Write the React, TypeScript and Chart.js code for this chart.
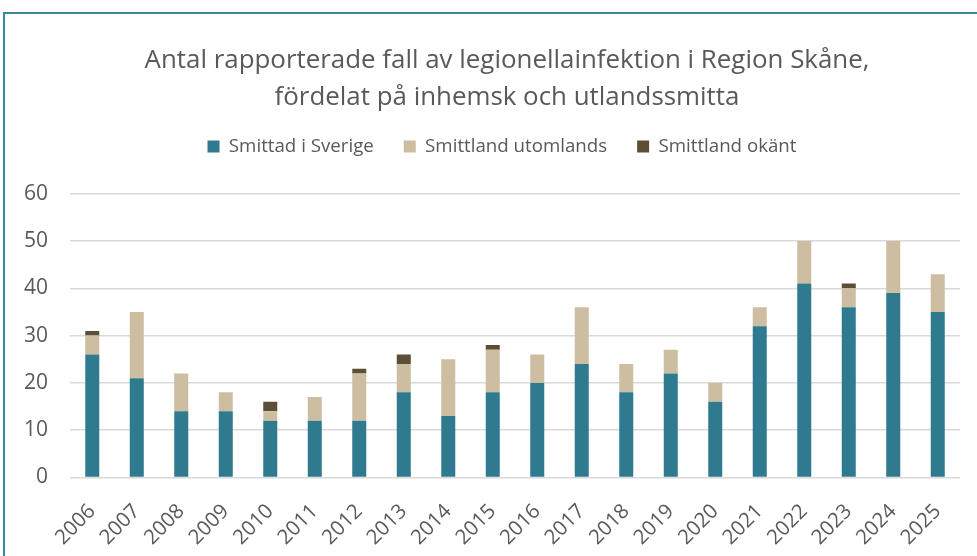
import React, { useEffect, useRef } from "react";
import { Chart, registerables } from "chart.js";

Chart.register(...registerables);

const years = ["2006","2007","2008","2009","2010","2011","2012","2013","2014","2015","2016","2017","2018","2019","2020","2021","2022","2023","2024","2025"];
const smittadSverige = [26,21,14,14,12,12,12,18,13,18,20,24,18,22,16,32,41,36,39,35];
const smittlandUtomlands = [4,14,8,4,2,5,10,6,12,9,6,12,6,5,4,4,9,4,11,8];
const smittlandOkant = [1,0,0,0,2,0,1,2,0,1,0,0,0,0,0,0,0,1,0,0];
const titleLines = ["Antal rapporterade fall av legionellainfektion i Region Skåne,", "fördelat på inhemsk och utlandssmitta"];

const FONT = "'Open Sans', sans-serif";
const TEXT = "#595959";

const legendSpacing = {
  id: "legendSpacing",
  beforeInit(chart: any) {
    const legend = chart.legend;
    if (!legend) return;
    const fit = legend.fit;
    legend.fit = function () {
      fit.bind(legend)();
      this.height += 28;
    };
  },
  afterLayout(chart: any) {
    // The original frame is wider than the visible crop: centre title and legend on it
    const t = chart.titleBlock;
    if (t) { t.left += 26; t.right += 26; }
    const l = chart.legend;
    if (l) { l.left += 21; l.right += 21; }
  },
};

export default function App() {
  const ref = useRef<HTMLCanvasElement | null>(null);
  useEffect(() => {
    if (!ref.current) return;
    const chart = new Chart(ref.current, {
      type: "bar",
      data: {
        labels: years,
        datasets: [
          { label: "Smittad i Sverige", data: smittadSverige, backgroundColor: "#2F7A8E" },
          { label: "Smittland utomlands", data: smittlandUtomlands, backgroundColor: "#CDBEA2" },
          { label: "Smittland okänt", data: smittlandOkant, backgroundColor: "#5D4F35" },
        ],
      },
      options: {
        animation: false,
        responsive: false,
        layout: { padding: { top: 42, left: 2, right: 17, bottom: -8 } },
        datasets: { bar: { categoryPercentage: 1, barPercentage: 0.315 } },
        plugins: {
          title: {
            display: true,
            text: titleLines,
            color: TEXT,
            font: { family: FONT, size: 25.9, weight: "normal", lineHeight: 1.43 },
            padding: { top: 0, bottom: -9 },
          },
          legend: {
            display: true,
            position: "top",
            labels: {
              boxWidth: 12,
              boxHeight: 12,
              color: TEXT,
              padding: 30,
              font: { family: FONT, size: 18.7 },
            },
          },
          tooltip: { enabled: false },
        },
        scales: {
          x: {
            stacked: true,
            grid: { display: false },
            border: { display: false },
            ticks: {
              color: TEXT,
              font: { family: FONT, size: 20.5 },
              maxRotation: 45,
              minRotation: 45,
              padding: 14,
            },
          },
          y: {
            stacked: true,
            min: 0,
            max: 60,
            ticks: { stepSize: 10, color: TEXT, font: { family: FONT, size: 21 }, padding: 22 },
            grid: { color: "#D9D9D9", lineWidth: 1.5, drawTicks: false },
            border: { display: false },
          },
        },
      },
      plugins: [legendSpacing],
    });
    return () => chart.destroy();
  }, []);
  return (
    <div style={{ position: "fixed", left: 0, top: 0, width: 977, height: 556, background: "#fff", overflow: "hidden" }}>
      <div style={{ position: "absolute", left: 3, top: 12, width: 1000, height: 600, borderTop: "2px solid #3A8999", borderLeft: "2px solid #3A8999" }} />
      <canvas ref={ref} width={977} height={556} style={{ position: "absolute", left: 0, top: 0 }} />
    </div>
  );
}
